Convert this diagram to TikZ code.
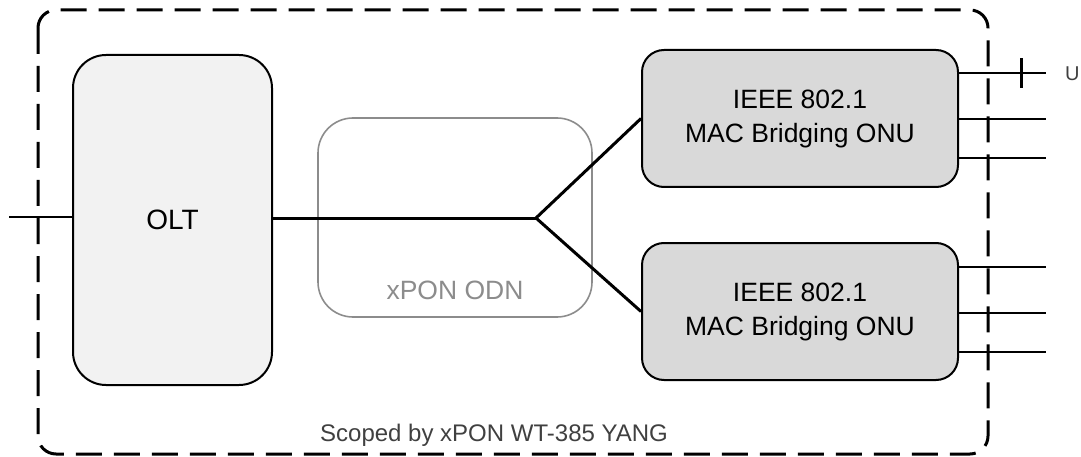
\documentclass[tikz,border=0pt]{standalone}
\usepackage{fontspec}
\setmainfont{Liberation Sans}
\usetikzlibrary{calc}
\definecolor{oltfill}{HTML}{F2F2F2}
\definecolor{onufill}{HTML}{D9D9D9}
\definecolor{odngray}{HTML}{8C8C8C}
\definecolor{notegray}{HTML}{404040}

\begin{document}
\begin{tikzpicture}[x=1pt,y=-1pt,
  box/.style={draw=black, line width=2pt, inner sep=0pt, align=center},
  onubox/.style={box, fill=onufill, rounded corners=22pt,
    minimum width=316pt, minimum height=137pt,
    font=\fontsize{26.5}{34}\selectfont},
  port/.style={line width=2pt},
  fibre/.style={line width=3pt}]
  \useasboundingbox (0,0) rectangle (1081,457);

  % scope of the YANG model
  \draw[line width=3pt, dash pattern=on 26pt off 12pt, rounded corners=18pt]
    (38,10) rectangle (988,454);
  \node[text=notegray, font=\fontsize{24}{28}\selectfont] (scope) at (494,435)
    {Scoped by xPON WT-385 YANG};

  % equipment
  \node[box, fill=oltfill, rounded corners=33pt, minimum width=199pt,
    minimum height=330pt, font=\fontsize{28}{34}\selectfont] (olt) at (172.5,220) {OLT};
  \node[draw=odngray, line width=1.6pt, rounded corners=35pt, minimum width=274pt,
    minimum height=199pt] (odn) at (455,217.5) {};
  \node[text=odngray, font=\fontsize{26.5}{30}\selectfont] (odnlabel)
    at ($(odn.south)+(0,-27)$) {xPON ODN};
  \node[onubox] (onuA) at (800,118.5) {IEEE 802.1\\MAC Bridging ONU};
  \node[onubox] (onuB) at (800,311.5) {IEEE 802.1\\MAC Bridging ONU};

  % fibre tree
  \coordinate (split) at (536,218);
  \draw[fibre] (olt.east |- split) -- (split);
  \draw[fibre] (split) -- (onuA.west);
  \draw[fibre] (split) -- (onuB.west);

  % network side
  \coordinate (wan) at (9,217);
  \draw[port] (wan) -- (olt.west |- wan);

  % user ports
  \foreach \onu in {onuA,onuB}
    \foreach \dy [count=\k] in {-45,1,40}
      \draw[port] ($(\onu.east)+(0,\dy)$) -- ++(87,0) coordinate (\onu-p\k);
  \draw[line width=3pt] ($(onuA-p1)+(-25,-15)$) -- ++(0,30);
  \node[anchor=west, inner sep=0pt, text=notegray, font=\fontsize{20}{24}\selectfont]
    (uni) at ($(onuA-p1)+(19,0)$) {U};
\end{tikzpicture}
\end{document}
